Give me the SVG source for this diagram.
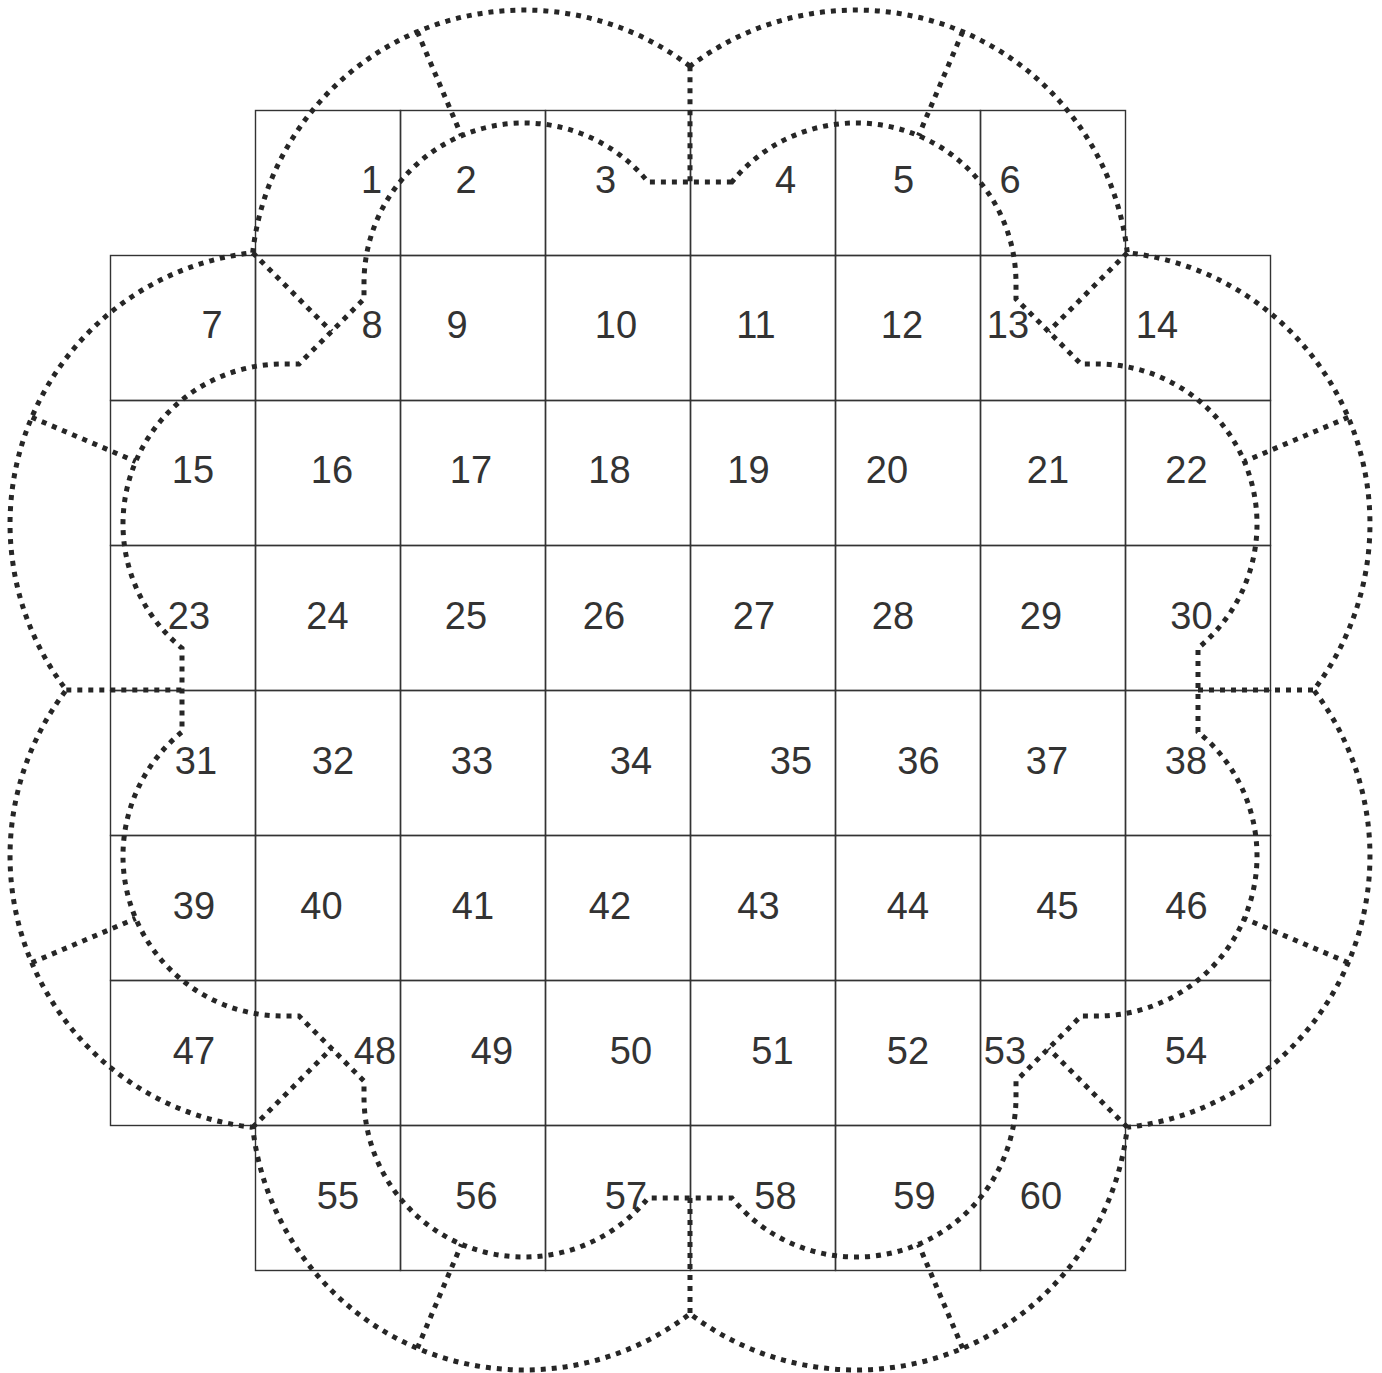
<svg xmlns="http://www.w3.org/2000/svg" width="1382" height="1373" viewBox="0 0 1382 1373">
<style>
.cell{fill:none;stroke:#333;stroke-width:1.4}
.lbl{font-family:"Liberation Sans",Arial,sans-serif;font-size:38px;fill:#333;text-anchor:middle}
.dot{fill:none;stroke:#262626;stroke-width:5;stroke-dasharray:5 6}
</style>
<rect width="1382" height="1373" fill="#fff"/>
<g id="cells">
<g id="c1"><rect class="cell" x="255.5" y="110.5" width="145" height="145"/><text class="lbl" x="371.5" y="193">1</text></g>
<g id="c2"><rect class="cell" x="400.5" y="110.5" width="145" height="145"/><text class="lbl" x="466" y="193">2</text></g>
<g id="c3"><rect class="cell" x="545.5" y="110.5" width="145" height="145"/><text class="lbl" x="605.5" y="193">3</text></g>
<g id="c4"><rect class="cell" x="690.5" y="110.5" width="145" height="145"/><text class="lbl" x="785.5" y="193">4</text></g>
<g id="c5"><rect class="cell" x="835.5" y="110.5" width="145" height="145"/><text class="lbl" x="903.5" y="193">5</text></g>
<g id="c6"><rect class="cell" x="980.5" y="110.5" width="145" height="145"/><text class="lbl" x="1010" y="193">6</text></g>
<g id="c7"><rect class="cell" x="110.5" y="255.5" width="145" height="145"/><text class="lbl" x="212" y="338">7</text></g>
<g id="c8"><rect class="cell" x="255.5" y="255.5" width="145" height="145"/><text class="lbl" x="372" y="338">8</text></g>
<g id="c9"><rect class="cell" x="400.5" y="255.5" width="145" height="145"/><text class="lbl" x="457" y="338">9</text></g>
<g id="c10"><rect class="cell" x="545.5" y="255.5" width="145" height="145"/><text class="lbl" x="616" y="338">10</text></g>
<g id="c11"><rect class="cell" x="690.5" y="255.5" width="145" height="145"/><text class="lbl" x="756" y="338">11</text></g>
<g id="c12"><rect class="cell" x="835.5" y="255.5" width="145" height="145"/><text class="lbl" x="902" y="338">12</text></g>
<g id="c13"><rect class="cell" x="980.5" y="255.5" width="145" height="145"/><text class="lbl" x="1008" y="338">13</text></g>
<g id="c14"><rect class="cell" x="1125.5" y="255.5" width="145" height="145"/><text class="lbl" x="1157" y="338">14</text></g>
<g id="c15"><rect class="cell" x="110.5" y="400.5" width="145" height="145"/><text class="lbl" x="193" y="483">15</text></g>
<g id="c16"><rect class="cell" x="255.5" y="400.5" width="145" height="145"/><text class="lbl" x="332" y="483">16</text></g>
<g id="c17"><rect class="cell" x="400.5" y="400.5" width="145" height="145"/><text class="lbl" x="471" y="483">17</text></g>
<g id="c18"><rect class="cell" x="545.5" y="400.5" width="145" height="145"/><text class="lbl" x="609.5" y="483">18</text></g>
<g id="c19"><rect class="cell" x="690.5" y="400.5" width="145" height="145"/><text class="lbl" x="748.5" y="483">19</text></g>
<g id="c20"><rect class="cell" x="835.5" y="400.5" width="145" height="145"/><text class="lbl" x="887" y="483">20</text></g>
<g id="c21"><rect class="cell" x="980.5" y="400.5" width="145" height="145"/><text class="lbl" x="1048" y="483">21</text></g>
<g id="c22"><rect class="cell" x="1125.5" y="400.5" width="145" height="145"/><text class="lbl" x="1186.5" y="483">22</text></g>
<g id="c23"><rect class="cell" x="110.5" y="545.5" width="145" height="145"/><text class="lbl" x="189" y="628.5">23</text></g>
<g id="c24"><rect class="cell" x="255.5" y="545.5" width="145" height="145"/><text class="lbl" x="327.5" y="628.5">24</text></g>
<g id="c25"><rect class="cell" x="400.5" y="545.5" width="145" height="145"/><text class="lbl" x="466" y="628.5">25</text></g>
<g id="c26"><rect class="cell" x="545.5" y="545.5" width="145" height="145"/><text class="lbl" x="604" y="628.5">26</text></g>
<g id="c27"><rect class="cell" x="690.5" y="545.5" width="145" height="145"/><text class="lbl" x="754" y="628.5">27</text></g>
<g id="c28"><rect class="cell" x="835.5" y="545.5" width="145" height="145"/><text class="lbl" x="893" y="628.5">28</text></g>
<g id="c29"><rect class="cell" x="980.5" y="545.5" width="145" height="145"/><text class="lbl" x="1041" y="628.5">29</text></g>
<g id="c30"><rect class="cell" x="1125.5" y="545.5" width="145" height="145"/><text class="lbl" x="1191.5" y="628.5">30</text></g>
<g id="c31"><rect class="cell" x="110.5" y="690.5" width="145" height="145"/><text class="lbl" x="196" y="774">31</text></g>
<g id="c32"><rect class="cell" x="255.5" y="690.5" width="145" height="145"/><text class="lbl" x="333" y="774">32</text></g>
<g id="c33"><rect class="cell" x="400.5" y="690.5" width="145" height="145"/><text class="lbl" x="472" y="774">33</text></g>
<g id="c34"><rect class="cell" x="545.5" y="690.5" width="145" height="145"/><text class="lbl" x="631" y="774">34</text></g>
<g id="c35"><rect class="cell" x="690.5" y="690.5" width="145" height="145"/><text class="lbl" x="791" y="774">35</text></g>
<g id="c36"><rect class="cell" x="835.5" y="690.5" width="145" height="145"/><text class="lbl" x="918.5" y="774">36</text></g>
<g id="c37"><rect class="cell" x="980.5" y="690.5" width="145" height="145"/><text class="lbl" x="1047" y="774">37</text></g>
<g id="c38"><rect class="cell" x="1125.5" y="690.5" width="145" height="145"/><text class="lbl" x="1186" y="774">38</text></g>
<g id="c39"><rect class="cell" x="110.5" y="835.5" width="145" height="145"/><text class="lbl" x="194" y="918.5">39</text></g>
<g id="c40"><rect class="cell" x="255.5" y="835.5" width="145" height="145"/><text class="lbl" x="321.5" y="918.5">40</text></g>
<g id="c41"><rect class="cell" x="400.5" y="835.5" width="145" height="145"/><text class="lbl" x="473" y="918.5">41</text></g>
<g id="c42"><rect class="cell" x="545.5" y="835.5" width="145" height="145"/><text class="lbl" x="610" y="918.5">42</text></g>
<g id="c43"><rect class="cell" x="690.5" y="835.5" width="145" height="145"/><text class="lbl" x="758.5" y="918.5">43</text></g>
<g id="c44"><rect class="cell" x="835.5" y="835.5" width="145" height="145"/><text class="lbl" x="908" y="918.5">44</text></g>
<g id="c45"><rect class="cell" x="980.5" y="835.5" width="145" height="145"/><text class="lbl" x="1057.5" y="918.5">45</text></g>
<g id="c46"><rect class="cell" x="1125.5" y="835.5" width="145" height="145"/><text class="lbl" x="1186.5" y="918.5">46</text></g>
<g id="c47"><rect class="cell" x="110.5" y="980.5" width="145" height="145"/><text class="lbl" x="194" y="1063.5">47</text></g>
<g id="c48"><rect class="cell" x="255.5" y="980.5" width="145" height="145"/><text class="lbl" x="375" y="1063.5">48</text></g>
<g id="c49"><rect class="cell" x="400.5" y="980.5" width="145" height="145"/><text class="lbl" x="492" y="1063.5">49</text></g>
<g id="c50"><rect class="cell" x="545.5" y="980.5" width="145" height="145"/><text class="lbl" x="631" y="1063.5">50</text></g>
<g id="c51"><rect class="cell" x="690.5" y="980.5" width="145" height="145"/><text class="lbl" x="772.5" y="1063.5">51</text></g>
<g id="c52"><rect class="cell" x="835.5" y="980.5" width="145" height="145"/><text class="lbl" x="908" y="1063.5">52</text></g>
<g id="c53"><rect class="cell" x="980.5" y="980.5" width="145" height="145"/><text class="lbl" x="1005" y="1063.5">53</text></g>
<g id="c54"><rect class="cell" x="1125.5" y="980.5" width="145" height="145"/><text class="lbl" x="1186" y="1063.5">54</text></g>
<g id="c55"><rect class="cell" x="255.5" y="1125.5" width="145" height="145"/><text class="lbl" x="338" y="1209">55</text></g>
<g id="c56"><rect class="cell" x="400.5" y="1125.5" width="145" height="145"/><text class="lbl" x="476.5" y="1209">56</text></g>
<g id="c57"><rect class="cell" x="545.5" y="1125.5" width="145" height="145"/><text class="lbl" x="626" y="1209">57</text></g>
<g id="c58"><rect class="cell" x="690.5" y="1125.5" width="145" height="145"/><text class="lbl" x="775.5" y="1209">58</text></g>
<g id="c59"><rect class="cell" x="835.5" y="1125.5" width="145" height="145"/><text class="lbl" x="914.5" y="1209">59</text></g>
<g id="c60"><rect class="cell" x="980.5" y="1125.5" width="145" height="145"/><text class="lbl" x="1041" y="1209">60</text></g>
</g>
<g id="connectors">
<path id="outer" class="dot" d="M690,66.3 A273,273 0 0 0 252.7,252.7 A273,273 0 0 0 66.3,690 A273,273 0 0 0 252.7,1127.3 A273,273 0 0 0 690,1313.7 A273,273 0 0 0 1127.3,1127.3 A273,273 0 0 0 1313.7,690 A273,273 0 0 0 1127.3,252.7 A273,273 0 0 0 690,66.3 Z"/>
<path id="inner" class="dot" d="M731.9,182 L648.1,182 A160,160 0 0 0 364,283 L364,299 L299,364 L283,364 A160,160 0 0 0 182,648.1 L182,731.9 A160,160 0 0 0 283,1016 L299,1016 L364,1081 L364,1097 A160,160 0 0 0 648.1,1198 L731.9,1198 A160,160 0 0 0 1016,1097 L1016,1081 L1081,1016 L1097,1016 A160,160 0 0 0 1198,731.9 L1198,648.1 A160,160 0 0 0 1097,364 L1081,364 L1016,299 L1016,283 A160,160 0 0 0 731.9,182 Z"/>
<path id="radials" class="dot" d="M690,66.3 L690,182 M690,1198 L690,1313.7 M66.3,690 L182,690 M1198,690 L1313.7,690 M252.7,252.7 L331.5,331.5 M1127.3,252.7 L1048.5,331.5 M252.7,1127.3 L331.5,1048.5 M1127.3,1127.3 L1048.5,1048.5 M417.3,31.7 L461.5,135.7 M962.7,31.7 L918.5,135.7 M31.7,417.3 L135.7,461.5 M31.7,962.7 L135.7,918.5 M1348.3,417.3 L1244.3,461.5 M1348.3,962.7 L1244.3,918.5 M417.3,1348.3 L461.5,1244.3 M962.7,1348.3 L918.5,1244.3"/>
</g>
</svg>
